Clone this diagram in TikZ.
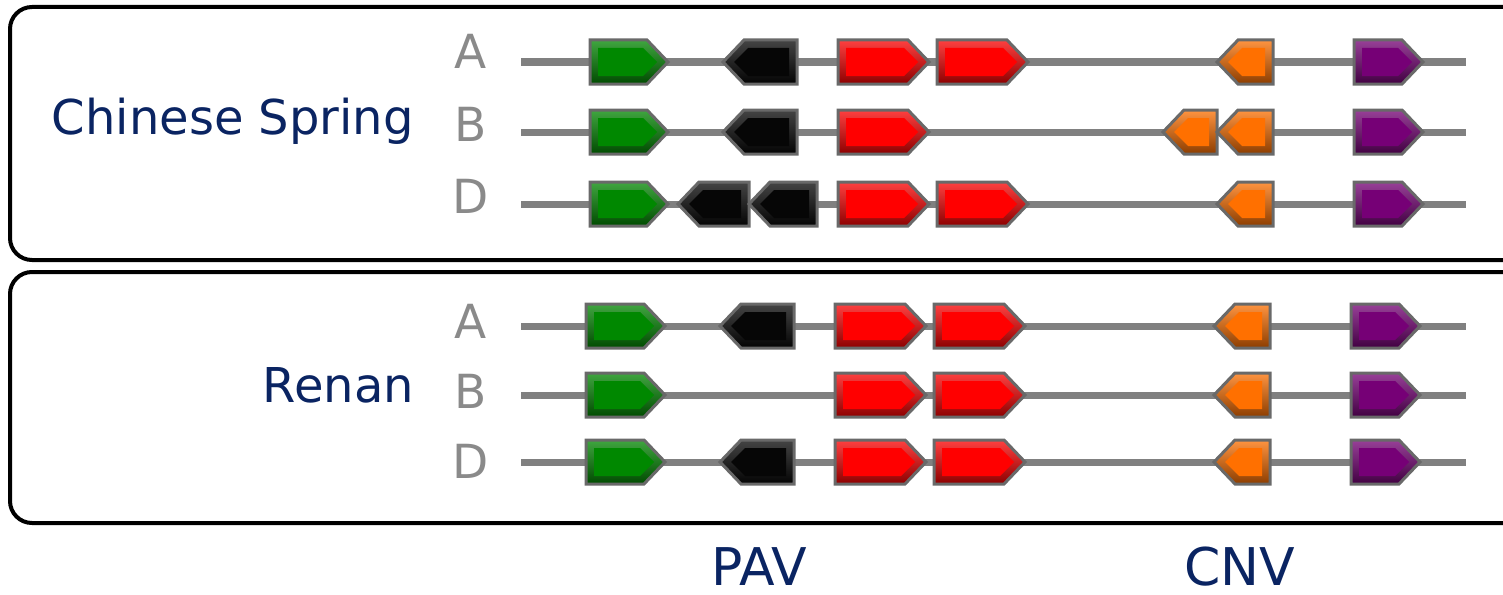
\documentclass[tikz,border=0pt]{standalone}
\usepackage{fontspec}
\setmainfont{DejaVu Sans}
\definecolor{navy}{RGB}{10,36,98}
\definecolor{lbl}{RGB}{138,138,138}
\definecolor{track}{RGB}{128,128,128}
\definecolor{rim}{RGB}{105,105,105}
\definecolor{ggreen}{RGB}{0,136,0}
\definecolor{gblack}{RGB}{6,6,6}
\definecolor{gred}{RGB}{255,0,0}
\definecolor{gorange}{RGB}{255,112,0}
\definecolor{gpurple}{RGB}{118,0,118}
\tikzset{
  panel/.style={draw=black, line width=4pt, rounded corners=22pt},
  trackline/.style={draw=track, line width=7pt},
  rowlbl/.style={text=lbl, anchor=base, font=\fontsize{47}{56}\selectfont, inner sep=0pt},
  cultivar/.style={text=navy, anchor=base east, font=\fontsize{48}{57}\selectfont, inner sep=0pt},
  kind/.style={text=navy, anchor=base, font=\fontsize{52}{60}\selectfont, inner sep=0pt},
  generim/.style={draw=rim, line width=3pt, line join=miter},
}
% forward gene: x1, x2, y, colour
\newcommand\fgene[4]{%
  \shade[top color=#4!75!white, bottom color=#4!55!black]
    (#1,#3-22) -- (#2-21,#3-22) -- (#2,#3) -- (#2-21,#3+22) -- (#1,#3+22) -- cycle;
  \fill[#4] (#1+8,#3-14) -- (#2-25,#3-14) -- (#2-11,#3) -- (#2-25,#3+14) -- (#1+8,#3+14) -- cycle;
  \draw[generim] (#1,#3-22) -- (#2-21,#3-22) -- (#2,#3) -- (#2-21,#3+22) -- (#1,#3+22) -- cycle;
}
% reverse gene: x1 (tip), x2, y, colour
\newcommand\rgene[4]{%
  \shade[top color=#4!75!white, bottom color=#4!55!black]
    (#2,#3-22) -- (#1+21,#3-22) -- (#1,#3) -- (#1+21,#3+22) -- (#2,#3+22) -- cycle;
  \fill[#4] (#2-8,#3-14) -- (#1+25,#3-14) -- (#1+11,#3) -- (#1+25,#3+14) -- (#2-8,#3+14) -- cycle;
  \draw[generim] (#2,#3-22) -- (#1+21,#3-22) -- (#1,#3) -- (#1+21,#3+22) -- (#2,#3+22) -- cycle;
}
\begin{document}
\begin{tikzpicture}[x=1pt,y=-1pt]
\useasboundingbox (0,0) rectangle (1503,594);
\clip (0,0) rectangle (1503,594);

% panels
\draw[panel] (10,7) rectangle (1540,260);
\draw[panel] (10,272) rectangle (1540,523);

% cultivar names
\node[cultivar] (cs) at (414,134) {Chinese Spring};
\node[cultivar] (rn) at (414,402) {Renan};

% subgenome labels
\node[rowlbl] (csA) at (471,68) {A};
\node[rowlbl] (csB) at (471,141) {B};
\node[rowlbl] (csD) at (471,213) {D};
\node[rowlbl] (rnA) at (471,338) {A};
\node[rowlbl] (rnB) at (471,408) {B};
\node[rowlbl] (rnD) at (471,478) {D};

% tracks
\foreach \yy in {62,132,204,326,395,462}
  \draw[trackline] (521,\yy) -- (1466,\yy);

% Chinese Spring A
\fgene{590}{668}{62}{ggreen}
\rgene{723}{797}{62}{gblack}
\fgene{838}{929}{62}{gred}
\fgene{937}{1028}{62}{gred}
\rgene{1217}{1273}{62}{gorange}
\fgene{1354}{1423}{62}{gpurple}
% Chinese Spring B
\fgene{590}{668}{132}{ggreen}
\rgene{723}{797}{132}{gblack}
\fgene{838}{929}{132}{gred}
\rgene{1163}{1217}{132}{gorange}
\rgene{1217}{1273}{132}{gorange}
\fgene{1354}{1423}{132}{gpurple}
% Chinese Spring D
\fgene{590}{668}{204}{ggreen}
\rgene{678}{749}{204}{gblack}
\rgene{749}{817}{204}{gblack}
\fgene{838}{929}{204}{gred}
\fgene{937}{1028}{204}{gred}
\rgene{1217}{1273}{204}{gorange}
\fgene{1354}{1423}{204}{gpurple}

% Renan A
\fgene{586}{665}{326}{ggreen}
\rgene{720}{794}{326}{gblack}
\fgene{835}{926}{326}{gred}
\fgene{934}{1025}{326}{gred}
\rgene{1214}{1270}{326}{gorange}
\fgene{1351}{1420}{326}{gpurple}
% Renan B
\fgene{586}{665}{395}{ggreen}
\fgene{835}{926}{395}{gred}
\fgene{934}{1025}{395}{gred}
\rgene{1214}{1270}{395}{gorange}
\fgene{1351}{1420}{395}{gpurple}
% Renan D
\fgene{586}{665}{462}{ggreen}
\rgene{720}{794}{462}{gblack}
\fgene{835}{926}{462}{gred}
\fgene{934}{1025}{462}{gred}
\rgene{1214}{1270}{462}{gorange}
\fgene{1351}{1420}{462}{gpurple}

% variation types
\node[kind] (pav) at (759,585) {PAV};
\node[kind] (cnv) at (1240,585) {CNV};
\end{tikzpicture}
\end{document}
